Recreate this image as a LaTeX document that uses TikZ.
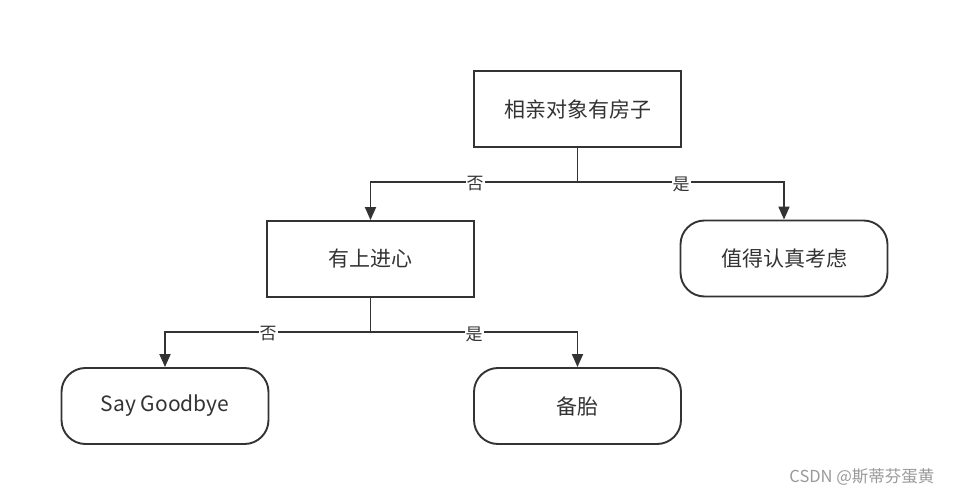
\documentclass[tikz,border=0pt]{standalone}
\usepackage{fontspec}
\setmainfont{Noto Sans CJK SC}
\usetikzlibrary{arrows.meta}
\definecolor{ink}{HTML}{333333}
\tikzset{
  boxnode/.style={draw=ink, line width=1.9pt, minimum width=207pt, minimum height=76pt, inner sep=0pt, text=ink, font=\fontsize{21}{24}\selectfont},
  endnode/.style={boxnode, rounded corners=24pt},
  conn/.style={draw=ink, line width=1.9pt, -{Triangle[length=13pt,width=11pt]}},
  lbl/.style={fill=white, inner sep=1pt, text=ink, font=\fontsize{17}{19}\selectfont},
}
\begin{document}
\begin{tikzpicture}[x=1pt,y=-1pt]
\useasboundingbox (0,0) rectangle (954,497);
\node[boxnode] (root) at (577.5,109) {相亲对象有房子};
\node[boxnode] (prog) at (370.5,259) {有上进心};
\node[endnode] (worth) at (784,258.5) {值得认真考虑};
\node[endnode] (bye) at (165,406) {Say Goodbye};
\node[endnode] (spare) at (577.5,406) {备胎};
\coordinate (j1) at (577.5,182);
\coordinate (j2) at (370.5,332);
\draw[draw=ink, line width=1.9pt] (root.south) -- (j1);
\draw[conn] (j1) -- (370.5,182) -- (prog.north);
\draw[conn] (j1) -- (784,182) -- (worth.north);
\draw[draw=ink, line width=1.9pt] (prog.south) -- (j2);
\draw[conn] (j2) -- (165,332) -- (bye.north);
\draw[conn] (j2) -- (577.5,332) -- (spare.north);
\node[lbl] (no1) at (475,184) {否};
\node[lbl] (yes1) at (681,184) {是};
\node[lbl] (no2) at (268,334) {否};
\node[lbl] (yes2) at (474,334) {是};
\node[text=gray!80, font=\fontsize{16.5}{18}\selectfont, anchor=east] (wm) at (938,477) {CSDN @斯蒂芬蛋黄};
\end{tikzpicture}
\end{document}
